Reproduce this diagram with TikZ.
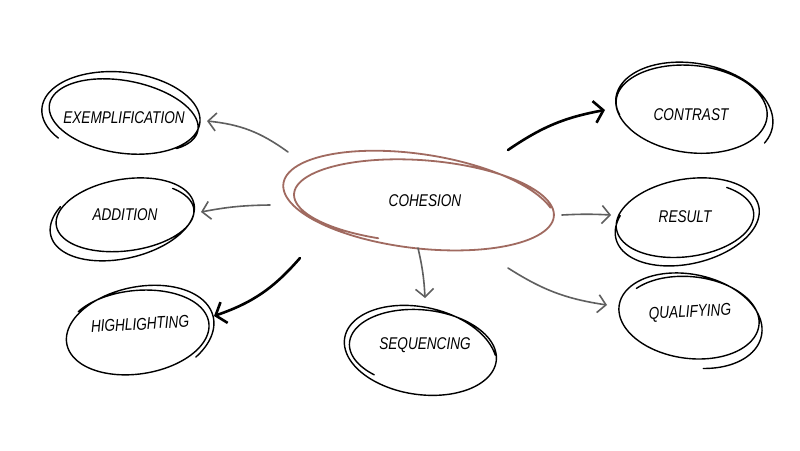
\documentclass[tikz,border=0pt]{standalone}
\usepackage{fontspec}
\setmainfont{Liberation Sans}[FakeStretch=0.8]
\usetikzlibrary{arrows.meta,shapes.geometric}
\definecolor{cohbrown}{RGB}{160,106,96}
\definecolor{arrgray}{RGB}{95,95,95}
\pgfkeys{/lp/.is family, /lp/.cd,
  cx/.store in=\Lcx, cy/.store in=\Lcy, rx/.store in=\Lrx, ry/.store in=\Lry,
  rot/.store in=\Lrot, from/.store in=\La, to/.store in=\Lb,
  grx/.store in=\Lgrx, gry/.store in=\Lgry, dx/.store in=\Ldx, dy/.store in=\Ldy,
  drot/.store in=\Ldrot,
  look/.code={\tikzset{lplook/.style={#1}}},
  cx=0, cy=0, rx=70, ry=40, rot=0, from=180, to=560, grx=0, gry=0, dx=0, dy=0, drot=0, look={}}
\newcommand\loopy[1]{\begingroup\pgfkeys{/lp/.cd,#1}%
  \draw[lplook,shift={(\Lcx,\Lcy)},rotate=\Lrot,
    declare function={
      ss(\t)=(\t-\La)/360;
      xa(\t)=\Lrx*(1+\Lgrx*ss(\t))*cos(\t);
      ya(\t)=\Lry*(1+\Lgry*ss(\t))*sin(\t);
      ph(\t)=\Ldrot*ss(\t);}]
    plot[smooth,samples=180,domain=\La:\Lb,variable=\t]
   ({xa(\t)*cos(ph(\t))-ya(\t)*sin(ph(\t))+\Ldx*ss(\t)},
    {xa(\t)*sin(ph(\t))+ya(\t)*cos(ph(\t))+\Ldy*ss(\t)});\endgroup}
\begin{document}
\begin{tikzpicture}[x=1pt,y=-1pt,
  lbl/.style={shape=ellipse, inner sep=0pt, font=\fontsize{17}{17}\selectfont\itshape},
  sk/.style={line width=1.4pt, black, line cap=round},
  skb/.style={line width=1.8pt, cohbrown, line cap=round},
  ga/.style={draw=arrgray, line width=1.6pt, -{Straight Barb[length=8pt,width=18pt]}, line cap=round},
  ba/.style={draw=black, line width=2.6pt, -{Straight Barb[length=9pt,width=22pt]}, line cap=round}]
\useasboundingbox (0,0) rectangle (800,450);
\fill[white] (0,0) rectangle (800,450);
% labels
\node[lbl] (coh) at (425,201) {COHESION};
\node[lbl] (exe) at (124,118) {EXEMPLIFICATION};
\node[lbl] (add) at (125,215) {ADDITION};
\node[lbl, rotate=3] (hig) at (140,324) {HIGHLIGHTING};
\node[lbl] (seq) at (425,345) {SEQUENCING};
\node[lbl] (con) at (691,115) {CONTRAST};
\node[lbl] (res) at (685,217) {RESULT};
\node[lbl, rotate=3] (qua) at (690,313) {QUALIFYING};
% sketchy loops
\loopy{cx=424,cy=203,rx=128,ry=40,rot=-3,from=110,to=700,grx=0.06,gry=0.15,dx=-4,dy=0,drot=4,look=skb}
\loopy{cx=121,cy=113,rx=80,ry=44,rot=-3,from=140,to=760,grx=-0.05,gry=-0.15,dx=3,dy=2,drot=5,look=sk}
\loopy{cx=127,cy=215,rx=67,ry=33,rot=4,from=-45,to=580,grx=0.06,gry=0.16,dx=-3,dy=2,drot=-6,look=sk}
\loopy{cx=137,cy=330,rx=70,ry=39,rot=4,from=215,to=770,grx=0.05,gry=0.14,dx=2,dy=2,drot=-6,look=sk}
\loopy{cx=423,cy=349,rx=73,ry=38,rot=-4,from=130,to=700,grx=0.05,gry=0.15,dx=-2,dy=3,drot=6,look=sk}
\loopy{cx=690,cy=106,rx=74,ry=40,rot=-4,from=160,to=740,grx=0.05,gry=0.13,dx=3,dy=3,drot=5,look=sk}
\loopy{cx=685,cy=218,rx=68,ry=36,rot=4,from=-50,to=570,grx=0.06,gry=0.14,dx=2,dy=2,drot=-6,look=sk}
\loopy{cx=690,cy=315,rx=68,ry=38,rot=-5,from=215,to=790,grx=0.06,gry=0.14,dx=0,dy=3,drot=6,look=sk}
% connectors
\draw[ga] ([shift={(-137,-49)}]coh.center) to[bend right=15] ([shift={(83,3)}]exe.center);
\draw[ga] ([shift={(-155,4)}]coh.center) to[bend right=5] ([shift={(76,-3)}]add.center);
\draw[ba] ([shift={(-125,57)}]coh.center) to[bend left=15] ([shift={(74,-8)}]hig.center);
\draw[ga] ([shift={(-7,47)}]coh.center) to[bend left=5] ([shift={(0,-47)}]seq.center);
\draw[ba] ([shift={(83,-51)}]coh.center) to[bend left=12] ([shift={(-86,-5)}]con.center);
\draw[ga] ([shift={(137,14)}]coh.center) to[bend left=3] ([shift={(-74,-2)}]res.center);
\draw[ga] ([shift={(83,67)}]coh.center) to[bend right=12] ([shift={(-83,-8)}]qua.center);
\end{tikzpicture}
\end{document}
